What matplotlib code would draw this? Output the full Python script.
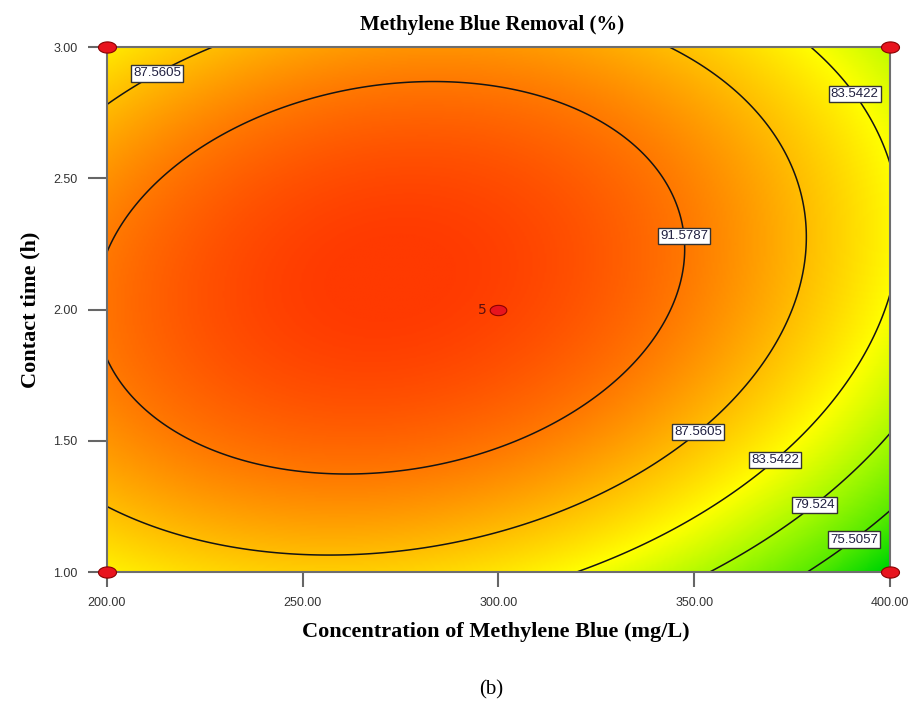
import numpy as np
import matplotlib
matplotlib.use("Agg")
import matplotlib.pyplot as plt
from matplotlib.colors import LinearSegmentedColormap
from matplotlib.path import Path

# quadratic response-surface model (coded factors), coefficients
# order: intercept, A, B, A^2, B^2, AB
coef = [94.8726, -4.2903, 2.3802, -7.2811, -7.3728, 2.1531]

conc_range = [200, 400]      # mg/L
time_range = [1.0, 3.0]      # h
conc_ticks = [200, 250, 300, 350, 400]
time_ticks = [1.0, 1.5, 2.0, 2.5, 3.0]

levels = [75.5057, 79.524, 83.5422, 87.5605, 91.5787]
level_text = ['75.5057', '79.524', '83.5422', '87.5605', '91.5787']

# where the contour labels sit (conc, time)
label_pos = [(212, 2.92), (391, 2.82), (347, 2.28), (350, 1.55),
             (370, 1.44), (380, 1.27), (390, 1.14)]

# design points
design_conc = [200, 200, 400, 400, 300]
design_time = [1.0, 3.0, 1.0, 3.0, 2.0]
center_reps = 5

c = np.linspace(conc_range[0], conc_range[1], 400)
t = np.linspace(time_range[0], time_range[1], 400)
C, T = np.meshgrid(c, t)
A = (C - 300) / 100
B = T - 2
Z = (coef[0] + coef[1]*A + coef[2]*B + coef[3]*A**2 + coef[4]*B**2
     + coef[5]*A*B)

node_vals = [72, 75.5, 79.5, 83.5, 87.5, 91.6, 95.5]
node_cols = ['#00d700', '#5aeb00', '#aafa00', '#ffff00', '#ffbe00', '#ff7800', '#ff3a00']
pos = [(v - node_vals[0]) / (node_vals[-1] - node_vals[0]) for v in node_vals]
cmap = LinearSegmentedColormap.from_list('de', list(zip(pos, node_cols)))

serif = ['Liberation Serif', 'DejaVu Serif']
narrow = ['Liberation Sans Narrow', 'Liberation Sans', 'DejaVu Sans']

fig = plt.figure(figsize=(9.12, 7.17), dpi=100)
ax = fig.add_axes([0.1173, 0.2022, 0.8586, 0.7322])
ax.imshow(Z, extent=[200, 400, 1, 3], origin='lower', aspect='auto', cmap=cmap,
          vmin=node_vals[0], vmax=node_vals[-1], interpolation='bilinear')
cs = ax.contour(C, T, Z, levels=levels, colors='#141414', linewidths=1.1)
labels = ax.clabel(cs, inline=False, manual=label_pos,
                   fmt=dict(zip(levels, level_text)), fontsize=9.5)
for lb in labels:
    lb.set_rotation(0)
    lb.set_family(narrow)
    lb.set_color('#202040')
    lb.set_bbox(dict(facecolor='white', edgecolor='#333333', linewidth=1, pad=1.5))

# elliptical red markers
th = np.linspace(0, 2*np.pi, 40)
ell = Path(np.column_stack([np.cos(th), 0.62*np.sin(th)]))
ax.plot(design_conc[:4], design_time[:4], linestyle='none', marker=ell, ms=13,
        mfc='#e8141e', mec='#8a0000', mew=0.8, clip_on=False, zorder=6)
ax.plot(design_conc[4], design_time[4], linestyle='none', marker=ell, ms=12,
        mfc='#e8141e', mec='#8a0000', mew=0.8, zorder=6)
ax.text(design_conc[4] - 3, design_time[4], str(center_reps), ha='right', va='center',
        fontsize=10, color='#5a1010')

ax.set_xlim(conc_range)
ax.set_ylim(time_range)
ax.set_xticks(conc_ticks)
ax.set_xticklabels(['%.2f' % v for v in conc_ticks])
ax.set_yticks(time_ticks)
ax.set_yticklabels(['%.2f' % v for v in time_ticks])
ax.tick_params(axis='x', length=11, width=1.5, color='#666666', pad=7,
               labelsize=9, labelcolor='#333333')
ax.tick_params(axis='y', length=14, width=1.5, color='#666666', pad=7,
               labelsize=9, labelcolor='#333333')
for lb in ax.get_xticklabels() + ax.get_yticklabels():
    lb.set_family(narrow)
for sp in ax.spines.values():
    sp.set_color('#6e6e6e')
    sp.set_linewidth(1.5)

fig.text(0.539, 0.965, 'Methylene Blue Removal (%)', ha='center', va='center',
         family=serif, fontweight='bold', fontsize=15)
fig.text(0.544, 0.118, 'Concentration of Methylene Blue (mg/L)', ha='center',
         va='center', family=serif, fontweight='bold', fontsize=16)
fig.text(0.033, 0.568, 'Contact time (h)', ha='center', va='center', rotation=90,
         family=serif, fontweight='bold', fontsize=16)
fig.text(0.539, 0.038, '(b)', ha='center', va='center', family=serif, fontsize=15)

fig.savefig('out.png')
